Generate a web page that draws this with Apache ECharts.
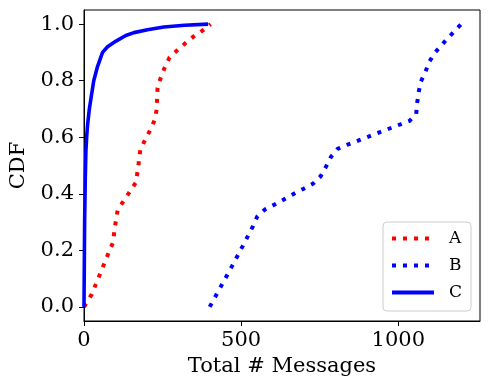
<!DOCTYPE html>
<html>
<head>
<meta charset="utf-8">
<script src="https://cdn.jsdelivr.net/npm/echarts@6/dist/echarts.min.js"></script>
<style>
    html, body { margin: 0; padding: 0; background: #fff; }
    #cdf_chart { width: 490px; height: 390px; }
</style>
</head>
<body>
<div id="cdf_chart"></div>
<script>
// Values
const seriesNames = ['A', 'B', 'C'];

const aMessages = [0, 25, 52, 78, 92, 98, 107, 126, 145, 165, 172, 179, 194, 210, 225, 231, 234, 244, 257, 272, 297, 324, 353, 381, 403];
const aCdf = [0, 0.045, 0.119, 0.19, 0.227, 0.28, 0.342, 0.375, 0.406, 0.44, 0.49, 0.554, 0.59, 0.624, 0.661, 0.697, 0.774, 0.81, 0.847, 0.882, 0.908, 0.934, 0.96, 0.98, 1.0];

const bMessages = [400, 437, 471, 504, 537, 551, 575, 605, 636, 668, 699, 729, 753, 770, 786, 807, 839, 905, 970, 1036, 1057, 1060, 1065, 1072, 1087, 1099, 1118, 1141, 1165, 1200];
const bCdf = [0, 0.075, 0.144, 0.213, 0.284, 0.319, 0.344, 0.361, 0.38, 0.4, 0.418, 0.436, 0.462, 0.496, 0.531, 0.559, 0.574, 0.602, 0.63, 0.658, 0.682, 0.721, 0.76, 0.797, 0.833, 0.868, 0.901, 0.93, 0.959, 1.0];

const cMessages = [0, 2, 4, 6, 9, 12, 17, 24, 31, 43, 59, 75, 102, 133, 159, 202, 254, 320, 395];
const cCdf = [0, 0.3, 0.45, 0.55, 0.61, 0.65, 0.7, 0.75, 0.8, 0.85, 0.9, 0.92, 0.94, 0.96, 0.97, 0.98, 0.99, 0.996, 1.0];

const xTicks = [0, 500, 1000];
const yTicks = [0, 0.2, 0.4, 0.6, 0.8, 1.0];

const zip = function (xs, ys) {
    return xs.map((x, i) => [x, ys[i]]);
}

const dotted = [4, 7];

const makeSerie = function (name, xs, ys, color, type) {
    return {
        name: name,
        type: 'line',
        showSymbol: false,
        symbol: 'none',
        animation: false,
        lineStyle: {
            color: color,
            width: type === 'solid' ? 3.6 : 4,
            type: type,
            cap: 'butt'
        },
        itemStyle: { color: color },
        data: zip(xs, ys)
    };
}

const chart = echarts.init(document.getElementById('cdf_chart'), null, { renderer: 'canvas' });

const font = 'DejaVu Serif';

const axisCommon = function (ticks) {
    return {
        axisLine: { show: true, onZero: false, lineStyle: { color: '#000', width: 1 } },
        axisTick: {
            show: true,
            length: 5,
            lineStyle: { color: '#000', width: 1 },
            customValues: ticks
        },
        splitLine: { show: false }
    };
}

chart.setOption({
    animation: false,
    textStyle: { fontFamily: font },

    // Plot frame
    grid: {
        left: 83,
        right: 10,
        top: 10,
        bottom: 69,
        show: true,
        borderColor: '#000',
        borderWidth: 1,
        containLabel: false
    },

    legend: {
        orient: 'vertical',
        right: 19,
        top: 222,
        padding: [8, 9, 10, 7],
        itemWidth: 42,
        itemHeight: 14,
        itemGap: 10,
        borderColor: '#cccccc',
        borderWidth: 1,
        borderRadius: 4,
        backgroundColor: 'rgba(255,255,255,0.8)',
        // hide the marker dot, keep only the line sample
        itemStyle: { opacity: 0 },
        lineStyle: { width: 4 },
        textStyle: {
            fontFamily: font,
            fontSize: 17,
            color: '#000',
            padding: [0, 0, 0, 10]
        },
        data: seriesNames
    },

    xAxis: Object.assign({
        type: 'value',
        min: 0,
        max: 1260,
        name: 'Total # Messages',
        nameLocation: 'middle',
        nameGap: 35,
        nameTextStyle: { fontFamily: font, fontSize: 21, color: '#000' },
        axisLabel: {
            fontFamily: font,
            fontSize: 21,
            color: '#000',
            margin: 9,
            formatter: v => String(v),
            customValues: xTicks
        }
    }, axisCommon(xTicks)),

    yAxis: Object.assign({
        type: 'value',
        min: -0.05,
        max: 1.05,
        name: 'CDF',
        nameLocation: 'middle',
        nameGap: 55,
        nameTextStyle: { fontFamily: font, fontSize: 21, color: '#000' },
        axisLabel: {
            fontFamily: font,
            fontSize: 21,
            color: '#000',
            margin: 10,
            formatter: v => v.toFixed(1),
            customValues: yTicks
        }
    }, axisCommon(yTicks)),

    series: [
        makeSerie('A', aMessages, aCdf, '#ff0000', dotted),
        makeSerie('B', bMessages, bCdf, '#0000ff', dotted),
        makeSerie('C', cMessages, cCdf, '#0000ff', 'solid')
    ]
});
</script>
</body>
</html>
